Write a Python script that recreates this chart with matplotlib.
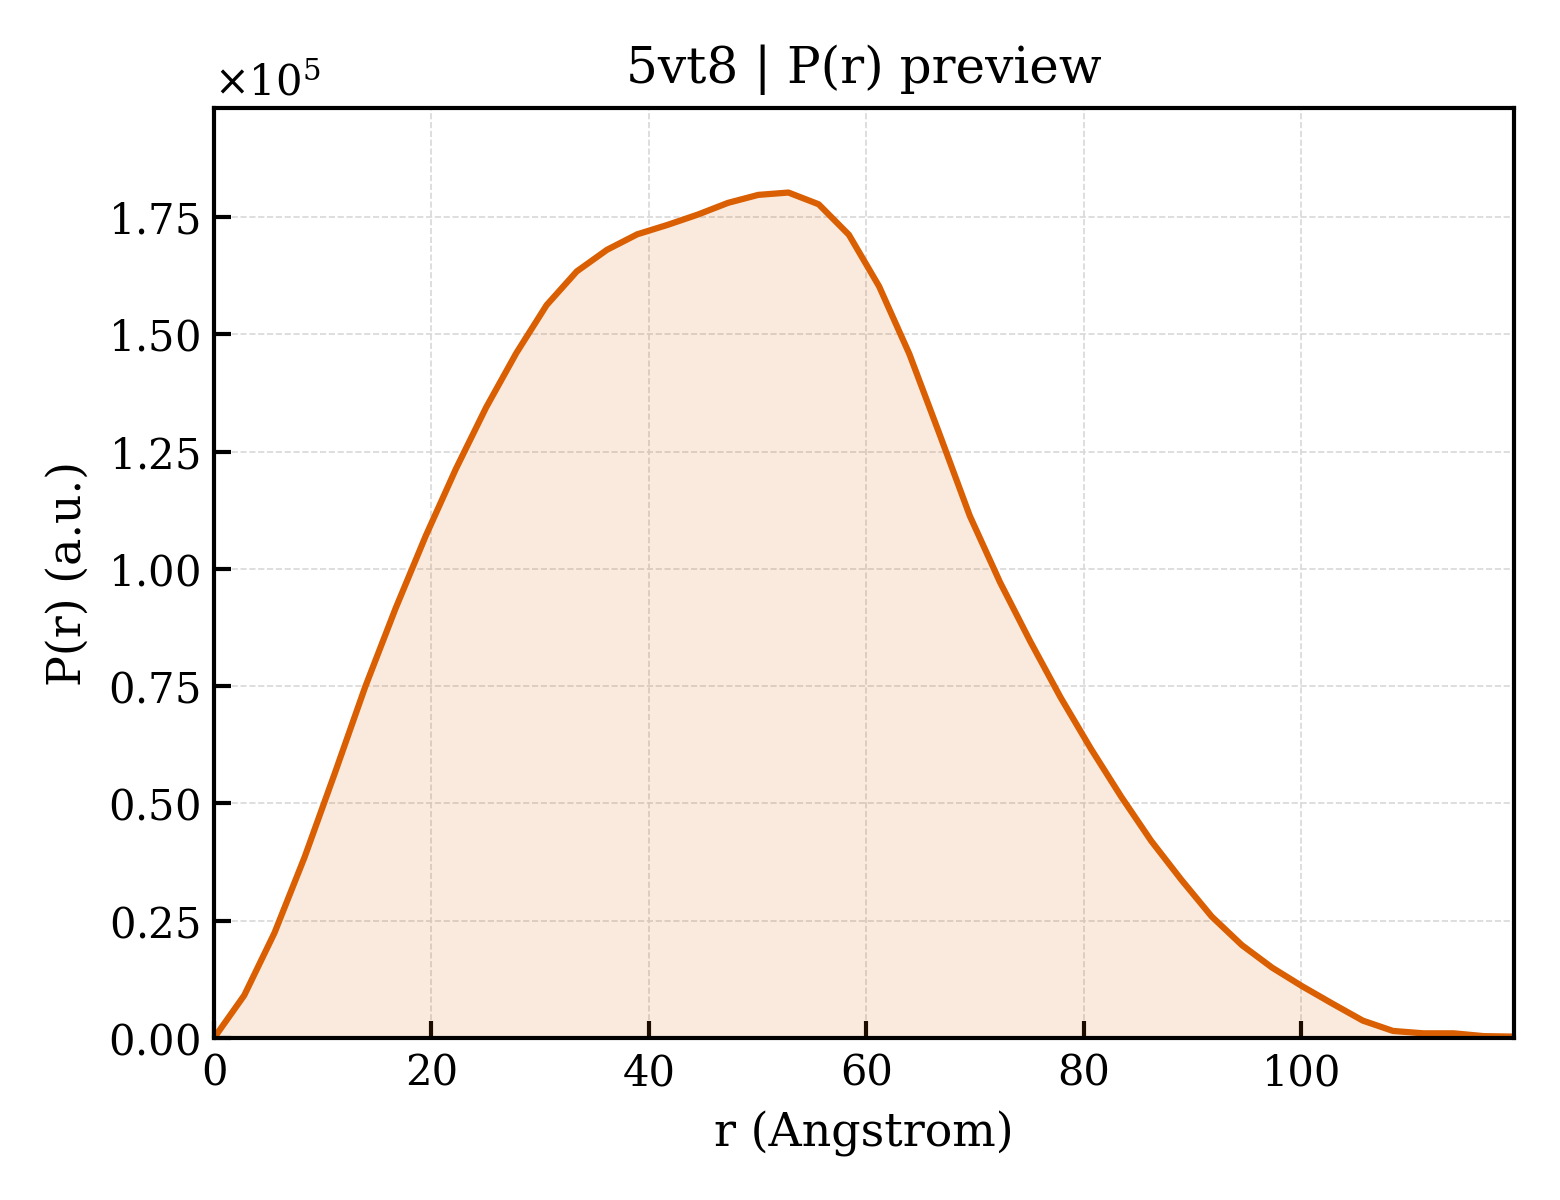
import matplotlib
matplotlib.use("Agg")
import matplotlib.pyplot as plt
from matplotlib.ticker import ScalarFormatter

plt.rcParams['font.family'] = ['DejaVu Serif']
plt.rcParams['mathtext.fontset'] = 'dejavuserif'

# r grid (Angstrom)
r = [0.00, 2.78, 5.56, 8.34, 11.12, 13.90, 16.69, 19.47, 22.25, 25.03,
     27.81, 30.59, 33.37, 36.15, 38.93, 41.71, 44.50, 47.28, 50.06, 52.84,
     55.62, 58.40, 61.18, 63.96, 66.74, 69.52, 72.31, 75.09, 77.87, 80.65,
     83.43, 86.21, 88.99, 91.77, 94.55, 97.33, 100.12, 102.90, 105.68, 108.46,
     111.24, 114.02, 116.80, 119.58]
# P(r) values (a.u.)
pr = [0.000, 0.091, 0.224, 0.386, 0.565, 0.748, 0.915, 1.070, 1.213, 1.344,
      1.460, 1.562, 1.634, 1.680, 1.713, 1.733, 1.755, 1.780, 1.797, 1.802,
      1.777, 1.712, 1.602, 1.458, 1.287, 1.113, 0.971, 0.845, 0.726, 0.617,
      0.515, 0.420, 0.337, 0.259, 0.198, 0.150, 0.110, 0.073, 0.037, 0.015,
      0.010, 0.010, 0.004, 0.003]
pr = [v * 1e5 for v in pr]

color = '#D95F02'

fig = plt.figure(figsize=(5.2, 4.0), dpi=300)
ax = fig.add_axes([0.1372, 0.135, 0.8333, 0.775])

ax.fill_between(r, pr, 0, color=color, alpha=0.13, linewidth=0)
ax.plot(r, pr, color=color, linewidth=1.5)

ax.set_xlim(0, max(r))
ax.set_ylim(0, max(pr) * 1.1)

fmt = ScalarFormatter(useMathText=True)
fmt.set_powerlimits((0, 0))
ax.yaxis.set_major_formatter(fmt)
ax.yaxis.get_offset_text().set_fontsize(10)

ax.grid(True, linestyle='--', linewidth=0.4, color='#d8d8d8')
ax.set_axisbelow(True)

ax.tick_params(direction='in', length=4, width=1.0, labelsize=10)
for s in ax.spines.values():
    s.set_linewidth(1.0)

ax.set_xlabel('r (Angstrom)', fontsize=11)
ax.set_ylabel('P(r) (a.u.)', fontsize=11)
ax.set_title('5vt8 | P(r) preview', fontsize=12)

fig.savefig('out.png', dpi=300)
